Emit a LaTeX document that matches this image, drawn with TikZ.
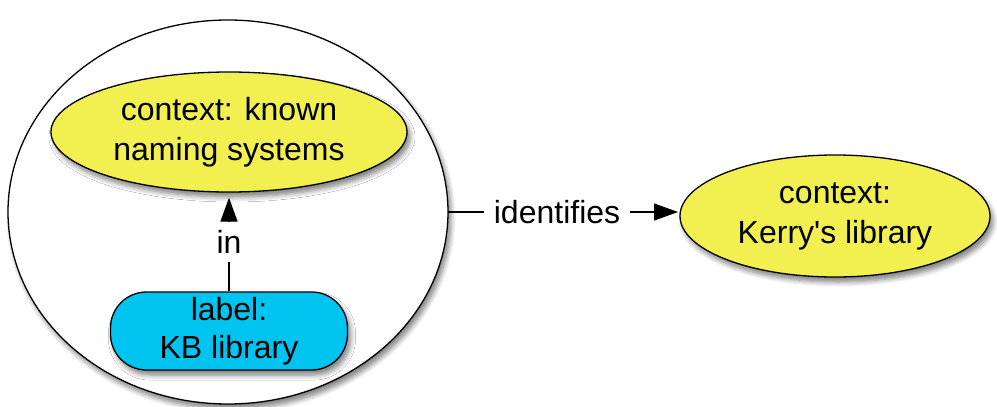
\documentclass[tikz,border=0pt]{standalone}
\usepackage{fontspec}
\setmainfont{Liberation Sans}
\usetikzlibrary{shapes.geometric,arrows.meta,shadows.blur}
\definecolor{cyell}{RGB}{242,240,80}
\definecolor{ccyan}{RGB}{0,196,240}
\tikzset{
  x=1pt,y=-1pt,
  shad/.style={blur shadow={shadow xshift=3pt,shadow yshift=-5pt,shadow blur steps=6,shadow blur radius=5pt,shadow opacity=50}},
  concept/.style={ellipse,draw=black,line width=1.3pt,fill=cyell,inner sep=0pt,align=center,font=\fontsize{32}{40}\selectfont,shad},
  outer/.style={ellipse,draw=black,line width=1.3pt,fill=white,inner sep=0pt,shad},
  labelbox/.style={rectangle,rounded corners=36pt,draw=black,line width=1.3pt,fill=ccyan,inner sep=0pt,align=center,font=\fontsize{32}{38}\selectfont,shad},
  lnk/.style={line width=1.3pt,draw=black},
  lbl/.style={fill=white,inner sep=5pt,font=\fontsize{32}{38}\selectfont},
  tip/.style={-{Triangle[length=24pt,width=17pt]}}
}
\begin{document}
\begin{tikzpicture}
\useasboundingbox (0,0) rectangle (997,407);
\node[outer,minimum width=440pt,minimum height=384pt] (big) at (228,212) {};
\node[concept,minimum width=356pt,minimum height=120pt] (known) at (229,132) {context: known\\naming systems};
\node[labelbox,minimum width=237pt,minimum height=78pt] (kb) at (229,331) {label:\\KB library};
\node[concept,minimum width=310pt,minimum height=122pt] (kerry) at (835,216) {context:\\Kerry\textquotesingle s library};
\coordinate (bigE) at (448,212);
\coordinate (kerryW) at (680,212);
\draw[lnk,tip,shorten >=5pt] (kb.north) -- node[lbl,pos=0.5,inner ysep=8pt]{in} (known.south);
\draw[lnk,tip,shorten >=2pt] (bigE) -- node[lbl,pos=0.47,inner xsep=10pt]{identifies} (kerryW);
\end{tikzpicture}
\end{document}
